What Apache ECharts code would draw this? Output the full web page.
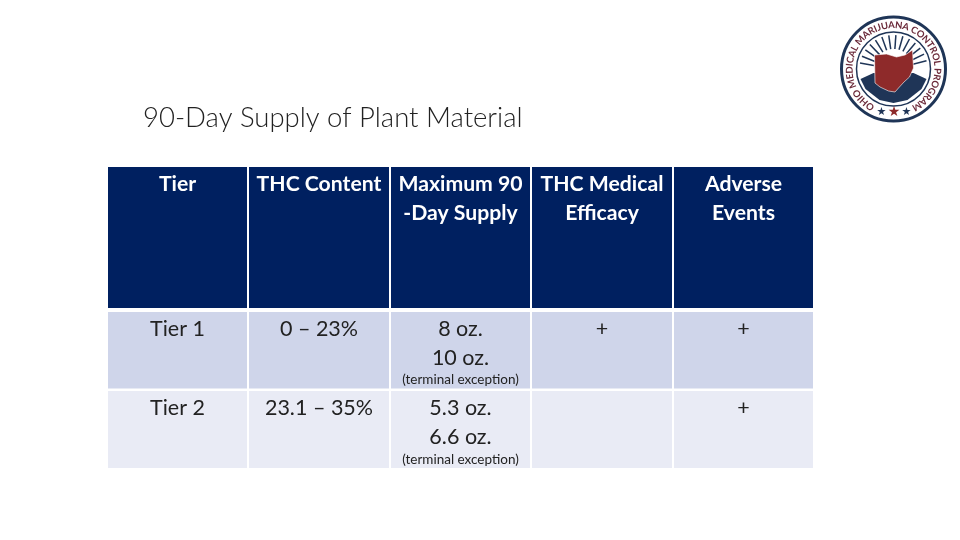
<!doctype html>
<html lang="en">
<head>
<meta charset="UTF-8">
<title>90-Day Supply of Plant Material</title>
<script src="https://cdn.jsdelivr.net/npm/echarts@6/dist/echarts.min.js"></script>
<style>
html,body{margin:0;padding:0;background:#fff}
#chart{width:960px;height:540px}
</style>
</head>
<body>
<div id="chart"></div>
<script>
var chartTitle = '90-Day Supply of Plant Material';
var headers = [['Tier'], ['THC Content'], ['Maximum 90', '-Day Supply'], ['THC Medical', 'Efficacy'], ['Adverse', 'Events']];
var tier1 = [['Tier 1'], ['0 – 23%'], ['8 oz.', '10 oz.'], ['+'], ['+']];
var tier2 = [['Tier 2'], ['23.1 – 35%'], ['5.3 oz.', '6.6 oz.'], [''], ['+']];
var exceptionNote = '(terminal exception)';
var sealText = 'OHIO MEDICAL MARIJUANA CONTROL PROGRAM';

// table layout
var colX = [108, 249, 391, 532, 674];
var colW = [139, 140, 139, 140, 139];
var rowY = [167, 312, 391];
var rowH = [141, 76.5, 77];
var textY = [184, 329, 408];
var noteY = [0, 379.5, 459.5];
var fontName = 'Lato';
var navy = '#002060';
var red = '#8e2a2a';
var sealNavy = '#1f3557';

var els = [];

els.push({
	type: 'text',
	style: {x: 143, y: 118, text: chartTitle, font: '300 27.5px ' + fontName, fill: '#222', textVerticalAlign: 'middle'}
});

function addRow(cells, r, bg, color, font) {
	for (var c = 0; c < cells.length; c++) {
		els.push({type: 'rect', shape: {x: colX[c], y: rowY[r], width: colW[c], height: rowH[r]}, style: {fill: bg}});
		for (var l = 0; l < cells[c].length; l++) {
			els.push({
				type: 'text',
				style: {
					x: colX[c] + colW[c] / 2, y: textY[r] + l * 29,
					text: cells[c][l], font: font, fill: color,
					textAlign: 'center', textVerticalAlign: 'middle'
				}
			});
		}
	}
}
addRow(headers, 0, navy, '#fff', '700 21.2px ' + fontName);
addRow(tier1, 1, '#cfd5ea', '#222', '400 21.5px ' + fontName);
addRow(tier2, 2, '#e9ebf5', '#222', '400 21.5px ' + fontName);

// small notes under the supply column
[1, 2].forEach(function (r) {
	els.push({
		type: 'text',
		style: {
			x: colX[2] + colW[2] / 2, y: noteY[r], text: exceptionNote,
			font: '400 13.5px ' + fontName, fill: '#222',
			textAlign: 'center', textVerticalAlign: 'middle'
		}
	});
});

// seal
var cx = 893.5, cy = 69;
els.push({type: 'circle', shape: {cx: cx, cy: cy, r: 52}, style: {fill: '#fff', stroke: sealNavy, lineWidth: 3}});
els.push({type: 'circle', shape: {cx: cx, cy: cy, r: 37}, style: {fill: '#fff', stroke: sealNavy, lineWidth: 1.5}});

// rays
for (var a = -170; a <= -10; a += 12) {
	var rad = a * Math.PI / 180;
	els.push({
		type: 'line',
		shape: {x1: cx + 20 * Math.cos(rad), y1: cy + 20 * Math.sin(rad), x2: cx + 34 * Math.cos(rad), y2: cy + 34 * Math.sin(rad)},
		style: {stroke: sealNavy, lineWidth: 1.5}
	});
}
// lower dark hills inside the ring
els.push({
	type: 'polygon',
	shape: {points: [[cx - 33, cy + 10], [cx - 20, cy + 4], [cx + 20, cy + 4], [cx + 33, cy + 10], [cx + 28, cy + 20], [cx + 14, cy + 31], [cx, cy + 34], [cx - 14, cy + 31], [cx - 28, cy + 20]]},
	style: {fill: sealNavy}
});
// Ohio outline
els.push({
	type: 'polygon',
	shape: {points: [[cx - 19, cy - 14], [cx - 7, cy - 15], [cx + 3, cy - 12], [cx + 11.5, cy - 14], [cx + 19, cy - 19], [cx + 20, cy - 1], [cx + 16, cy + 8], [cx + 10.5, cy + 13], [cx + 5, cy + 19], [cx + 1.5, cy + 23], [cx - 5, cy + 22], [cx - 13.5, cy + 18], [cx - 18.5, cy + 14]]},
	style: {fill: red, stroke: '#fff', lineWidth: 0.6}
});

// ring lettering, going clockwise from lower left, spaced by glyph width
var sealFont = '700 9.5px ' + fontName;
var ctx = document.createElement('canvas').getContext('2d');
ctx.font = sealFont;
var widths = sealText.split('').map(function (ch) { return ctx.measureText(ch).width; });
var total = 0;
for (var w = 0; w < widths.length - 1; w++) {
	total += (widths[w] + widths[w + 1]) / 2;
}
var deg = -148, perPx = 296 / total;
for (var i = 0; i < sealText.length; i++) {
	var t = deg * Math.PI / 180;
	els.push({
		type: 'text',
		x: cx + 44 * Math.sin(t), y: cy - 44 * Math.cos(t), rotation: -t,
		style: {text: sealText.charAt(i), font: sealFont, fill: '#6b2a3a', textAlign: 'center', textVerticalAlign: 'middle'}
	});
	if (i < widths.length - 1) {
		deg += (widths[i] + widths[i + 1]) / 2 * perPx;
	}
}
// stars at the foot of the seal
[[-12, 11, sealNavy], [0.5, 14, red], [13, 11, sealNavy]].forEach(function (s) {
	els.push({
		type: 'text',
		style: {x: cx + s[0], y: cy + 43, text: '★', font: s[1] + 'px "DejaVu Sans"', fill: s[2], textAlign: 'center', textVerticalAlign: 'middle'}
	});
});

var myChart = echarts.init(document.getElementById('chart'));
myChart.setOption({
	backgroundColor: '#fff',
	animation: false,
	graphic: {elements: els}
});
</script>
</body>
</html>
